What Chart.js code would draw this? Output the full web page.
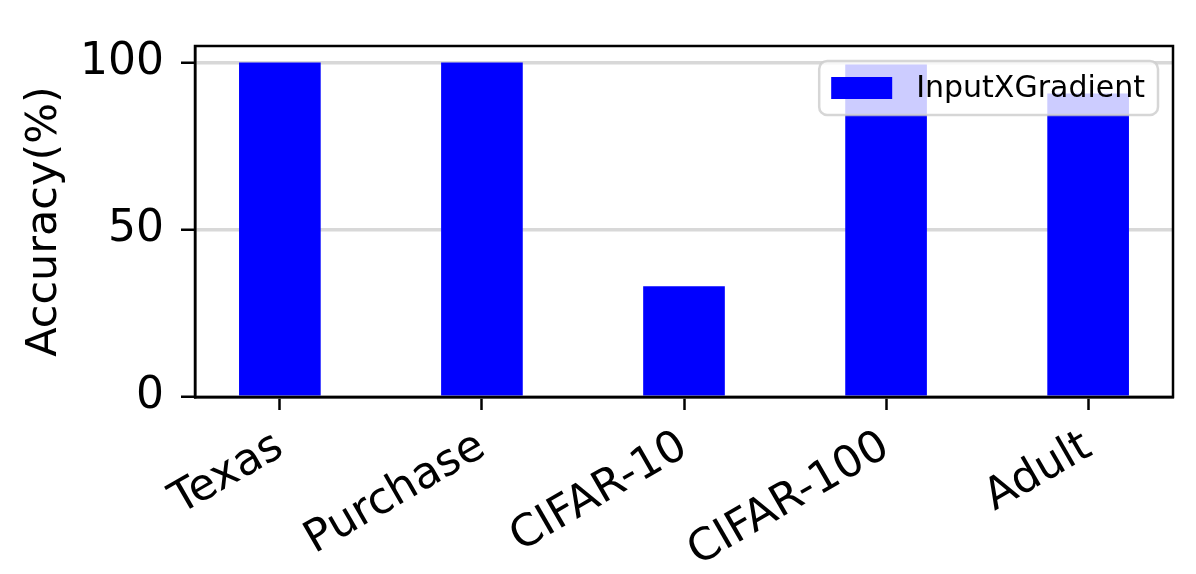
<!DOCTYPE html>
<html>
<head>
<meta charset="utf-8">
<script src="https://cdn.jsdelivr.net/npm/chart.js@4"></script>
<style>
  body { margin: 0; background: #fff; }
  canvas { display: block; }
</style>
</head>
<body>
<canvas id="chart" width="1196" height="574"></canvas>
<script>
// data
const categories = ["Texas", "Purchase", "CIFAR-10", "CIFAR-100", "Adult"];
const accuracy = [100, 100, 33, 99.4, 90.7];
const seriesName = "InputXGradient";
const yTicks = [0, 50, 100];

const FONT = "'DejaVu Sans', sans-serif";

// frame on top/right like matplotlib
const framePlugin = {
    id: "frame",
    afterDatasetsDraw(chart) {
        const a = chart.chartArea;
        const ctx = chart.ctx;
        ctx.save();
        ctx.strokeStyle = "#000";
        ctx.lineWidth = 2.5;
        ctx.strokeRect(a.left, a.top, a.right - a.left, a.bottom - a.top);
        ctx.restore();
    }
};

// legend box inside plot, upper right, semi-transparent
const legendPlugin = {
    id: "boxLegend",
    afterDraw(chart) {
        const a = chart.chartArea;
        const ctx = chart.ctx;
        const ds = chart.data.datasets[0];
        ctx.save();
        ctx.font = "30px " + FONT;
        const tw = ctx.measureText(ds.label).width;
        const h = 54, padL = 12, patchW = 61, patchH = 22, gap = 24, padR = 13;
        const w = padL + patchW + gap + tw + padR;
        const x = a.right - 15 - w;
        const y = a.top + 15;
        ctx.beginPath();
        ctx.roundRect(x, y, w, h, 8);
        ctx.fillStyle = "rgba(255,255,255,0.8)";
        ctx.fill();
        ctx.strokeStyle = "rgba(204,204,204,0.8)";
        ctx.lineWidth = 2.5;
        ctx.stroke();
        ctx.fillStyle = ds.backgroundColor;
        ctx.fillRect(x + padL, y + (h - patchH) / 2, patchW, patchH);
        ctx.fillStyle = "#000";
        ctx.textBaseline = "middle";
        ctx.fillText(ds.label, x + padL + patchW + gap, y + h / 2 + 1);
        ctx.restore();
    }
};

new Chart(document.getElementById("chart"), {
    type: "bar",
    data: {
        datasets: [{
            label: seriesName,
            data: accuracy.map((v, i) => ({ x: i, y: v })),
            backgroundColor: "#0000ff",
            barThickness: 81
        }]
    },
    options: {
        responsive: false,
        animation: false,
        layout: { padding: { top: 46, right: 23, left: 0, bottom: 0 } },
        plugins: { legend: { display: false }, tooltip: { enabled: false } },
        scales: {
            x: {
                type: "linear",
                offset: false,
                min: -0.42,
                max: 4.42,
                afterBuildTicks: s => { s.ticks = categories.map((c, i) => ({ value: i })); },
                afterFit: s => { s.height = 177; },
                ticks: {
                    autoSkip: false,
                    maxRotation: 30,
                    minRotation: 30,
                    padding: 11,
                    color: "#000",
                    font: { family: FONT, size: 44 },
                    callback: v => categories[v]
                },
                grid: { offset: false, drawOnChartArea: false, drawTicks: true, tickLength: 13, tickColor: "#000", tickWidth: 2.5 },
                border: { color: "#000", width: 2.5 }
            },
            y: {
                min: 0,
                max: 105,
                afterBuildTicks: s => { s.ticks = yTicks.map(v => ({ value: v })); },
                afterFit: s => { s.width = 195; },
                ticks: {
                    padding: 17,
                    color: "#000",
                    font: { family: FONT, size: 44 }
                },
                title: {
                    display: true,
                    text: "Accuracy(%)",
                    color: "#000",
                    font: { family: FONT, size: 43 },
                    padding: { top: 19, bottom: 0 }
                },
                grid: { color: "#d8d8d8", lineWidth: 3.5, tickLength: 14, tickColor: "#000", tickWidth: 2.5 },
                border: { color: "#000", width: 2.5 }
            }
        }
    },
    plugins: [framePlugin, legendPlugin]
});
</script>
</body>
</html>
